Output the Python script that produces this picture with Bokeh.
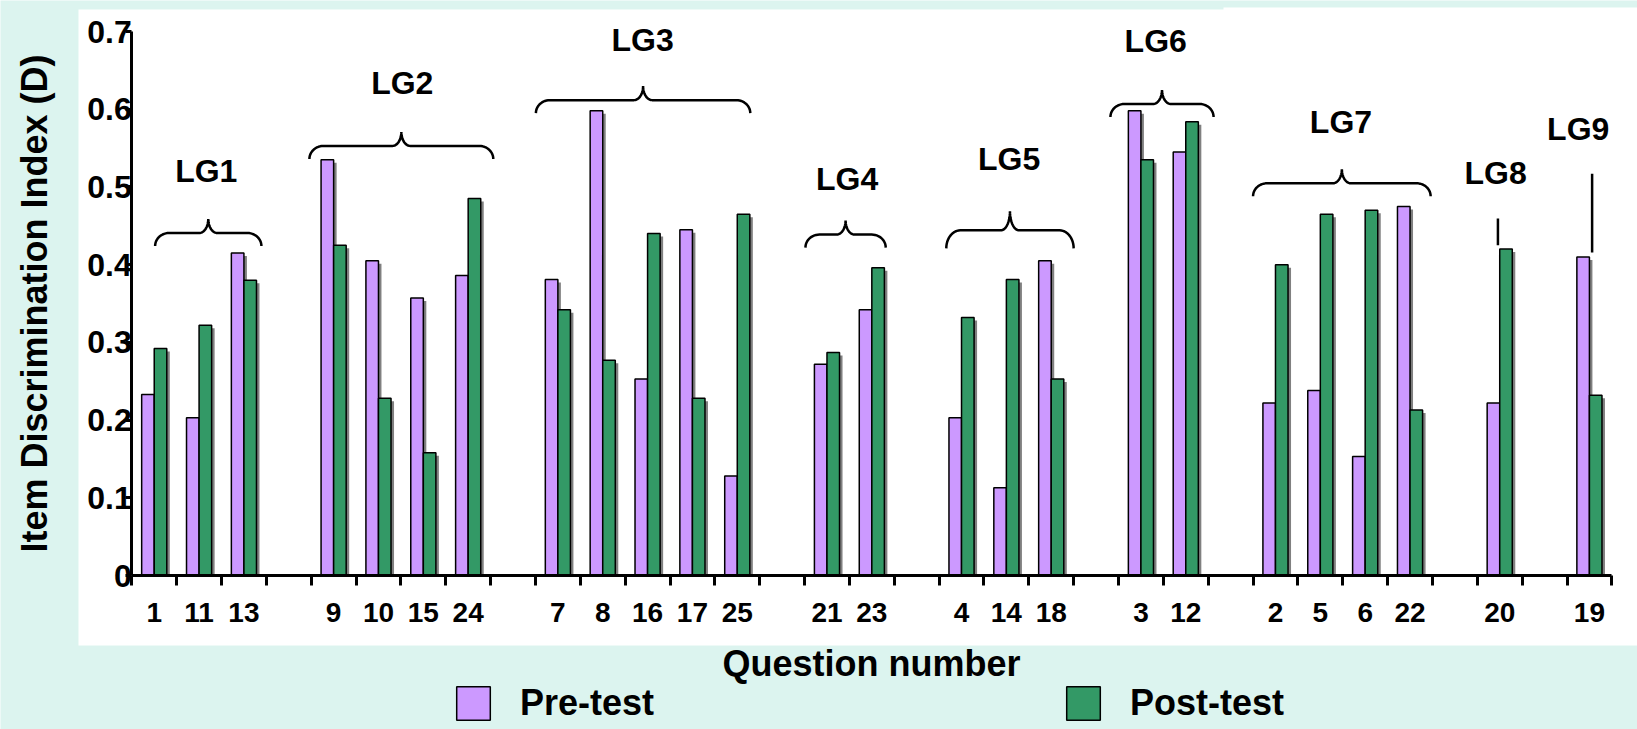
import numpy as np
from bokeh.plotting import figure
from bokeh.models import (Range1d, FixedTicker, BoxAnnotation, Legend, LegendItem,
                          LabelSet, ColumnDataSource)
from bokeh.core.properties import value
from bokeh.embed import file_html
from bokeh.resources import INLINE

# ---------------- data ----------------
group_names = ["LG1", "LG2", "LG3", "LG4", "LG5", "LG6", "LG7", "LG8", "LG9"]
group_questions = [["1", "11", "13"], ["9", "10", "15", "24"], ["7", "8", "16", "17", "25"],
                   ["21", "23"], ["4", "14", "18"], ["3", "12"], ["2", "5", "6", "22"],
                   ["20"], ["19"]]
pre_test = [0.233, 0.203, 0.415,
            0.535, 0.405, 0.357, 0.386,
            0.381, 0.598, 0.253, 0.445, 0.128,
            0.272, 0.342,
            0.203, 0.113, 0.405,
            0.598, 0.545,
            0.222, 0.238, 0.153, 0.475,
            0.222,
            0.410]
post_test = [0.292, 0.322, 0.380,
             0.425, 0.228, 0.158, 0.485,
             0.342, 0.277, 0.440, 0.228, 0.465,
             0.287, 0.396,
             0.332, 0.381, 0.253,
             0.535, 0.584,
             0.400, 0.465, 0.470, 0.213,
             0.420,
             0.232]
y_ticks = [0, 0.1, 0.2, 0.3, 0.4, 0.5, 0.6, 0.7]
y_tick_labels = ["0", "0.1", "0.2", "0.3", "0.4", "0.5", "0.6", "0.7"]

# ---------------- layout constants (pixels inside the figure) ----------------
W, H = 1637, 729
WHITE_L, WHITE_T, WHITE_B = 78, 9, 645   # white panel edges
WHITE_TR_L, WHITE_TR_T = 1223, 7         # slightly taller white part at top right
AXIS_X_PX = 131.3                 # y-axis line (x = -0.5)
AXIS_Y_PX = 575.0                 # x-axis line (y = 0)
MINT = "#dcf4ef"
PRE_C = "#cc99ff"
POST_C = "#339966"
FONT = "Liberation Sans"

# slot positions: one empty slot between groups
xs, labels = [], []
pos = 0
for qs in group_questions:
    for q in qs:
        xs.append(pos)
        labels.append(q)
        pos += 1
    pos += 1
n_slots = pos - 1
xs = np.array(xs, dtype=float)

XA0, XA1 = -0.5, n_slots - 0.5    # extent of the x axis
YA0, YA1 = 0.0, 0.7               # extent of the y axis
px_x = 44.85                      # pixels per slot
px_y = 777.1                      # pixels per unit of D

x_start = XA0 - AXIS_X_PX / px_x
x_end = x_start + W / px_x
y_end = AXIS_Y_PX / px_y
y_start = y_end - H / px_y


def xdata(px):
    return x_start + px / px_x


def ydata(py):
    return y_end - py / px_y


p = figure(width=W, height=H, x_range=Range1d(x_start, x_end), y_range=Range1d(y_start, y_end),
           output_backend="svg", toolbar_location=None,
           min_border_left=0, min_border_right=0, min_border_top=0, min_border_bottom=0)
p.border_fill_color = MINT
p.background_fill_color = MINT
p.outline_line_color = None
p.xgrid.visible = False
p.ygrid.visible = False

# white panel behind the chart area
p.add_layout(BoxAnnotation(left=xdata(WHITE_L), top=ydata(WHITE_T), bottom=ydata(WHITE_B),
                           fill_color="white", fill_alpha=1.0, line_color=None,
                           level="underlay"))
p.add_layout(BoxAnnotation(left=xdata(WHITE_TR_L), top=ydata(WHITE_TR_T), bottom=ydata(WHITE_T + 2),
                           fill_color="white", fill_alpha=1.0, line_color=None,
                           level="underlay"))

# ---------------- bars ----------------
bw = 0.28
sdx = 3 / px_x
sdy = 3 / px_y
p.vbar(x=xs - bw / 2 + sdx, top=np.array(pre_test) - sdy, width=bw, bottom=0,
       fill_color="#808080", line_color=None)
p.vbar(x=xs + bw / 2 + sdx, top=np.array(post_test) - sdy, width=bw, bottom=0,
       fill_color="#808080", line_color=None)
r_pre = p.vbar(x=xs - bw / 2, top=pre_test, width=bw, bottom=0,
               fill_color=PRE_C, line_color="black", line_width=1.5)
r_post = p.vbar(x=xs + bw / 2, top=post_test, width=bw, bottom=0,
                fill_color=POST_C, line_color="black", line_width=1.5)

# ---------------- braces and group labels ----------------
brace_x0 = [0.02, 3.46, 8.51, 14.52, 17.66, 21.32, 24.50]
brace_x1 = [2.39, 7.56, 13.29, 16.31, 20.50, 23.62, 28.46]
brace_end_y = [0.424, 0.536, 0.595, 0.422, 0.421, 0.590, 0.488]
brace_drop = [13, 13, 13, 13, 18, 13, 13]
brace_rise = [14, 14, 14, 14, 19, 14, 14]


def brace_path(x0, x1, y_end_, drop, rise, r_end=14, r_tip=9, n=14):
    yl = y_end_ + drop / px_y
    xm = (x0 + x1) / 2
    t = np.linspace(0, np.pi / 2, n)
    ax = x0 + r_end / px_x * (1 - np.cos(t))
    ay = yl - drop / px_y * (1 - np.sin(t))
    bx = xm - r_tip / px_x * (1 - np.sin(t))
    by = yl + rise / px_y * (1 - np.cos(t))
    lx = np.concatenate([ax, bx])
    ly = np.concatenate([ay, by])
    rx = (x0 + x1) - lx[::-1]
    ry = ly[::-1]
    return list(np.concatenate([lx, rx])), list(np.concatenate([ly, ry]))


bxs, bys = [], []
for a, b, ye, d, r in zip(brace_x0, brace_x1, brace_end_y, brace_drop, brace_rise):
    bx_, by_ = brace_path(a, b, ye, d, r)
    bxs.append(bx_)
    bys.append(by_)
p.multi_line(xs=bxs, ys=bys, line_color="black", line_width=2.5)

tick_line_x = [29.96, 32.06]
tick_line_y0 = [0.425, 0.4155]
tick_line_y1 = [0.4595, 0.517]
p.segment(x0=tick_line_x, y0=tick_line_y0, x1=tick_line_x, y1=tick_line_y1,
          line_color="black", line_width=2.5)

label_x = [1.16, 5.53, 10.89, 15.45, 19.06, 22.33, 26.46, 29.91, 31.75]
label_y = [0.520, 0.634, 0.689, 0.510, 0.536, 0.6875, 0.583, 0.518, 0.574]
p.add_layout(LabelSet(x="x", y="y", text="text",
                      source=ColumnDataSource(dict(x=label_x, y=label_y, text=group_names)),
                      text_align="center", text_baseline="middle",
                      text_font=value(FONT), text_font_style="bold", text_font_size="32px",
                      text_color="black"))

# ---------------- axes ----------------
minor_bounds = [XA0 + i for i in range(n_slots + 1)]
xa = p.xaxis[0]
xa.fixed_location = 0
xa.bounds = (XA0, XA1)
xa.ticker = FixedTicker(ticks=list(xs), minor_ticks=minor_bounds)
xa.major_label_overrides = {float(x): l for x, l in zip(xs, labels)}
xa.major_tick_line_color = None
xa.major_tick_out = 0
xa.major_tick_in = 0
xa.minor_tick_out = 10
xa.minor_tick_in = 0
xa.minor_tick_line_width = 3
xa.minor_tick_line_color = "black"
xa.axis_line_width = 3
xa.axis_line_color = "black"
xa.major_label_standoff = 17
xa.major_label_text_font = FONT
xa.major_label_text_font_style = "bold"
xa.major_label_text_font_size = "28px"
xa.major_label_text_color = "black"
xa.axis_label = "Question number"
xa.axis_label_text_font = FONT
xa.axis_label_text_font_style = "bold"
xa.axis_label_text_font_size = "36px"
xa.axis_label_text_color = "black"
xa.axis_label_standoff = 18

ya = p.yaxis[0]
ya.fixed_location = XA0
ya.bounds = (YA0, YA1)
ya.ticker = FixedTicker(ticks=y_ticks)
ya.major_label_overrides = {float(t): l for t, l in zip(y_ticks, y_tick_labels)}
ya.minor_tick_line_color = None
ya.major_tick_out = 6
ya.major_tick_in = 0
ya.major_tick_line_width = 3
ya.major_tick_line_color = "black"
ya.axis_line_width = 3
ya.axis_line_color = "black"
ya.major_label_standoff = -6
ya.major_label_text_font = FONT
ya.major_label_text_font_style = "bold"
ya.major_label_text_font_size = "32px"
ya.major_label_text_color = "black"
ya.axis_label = "Item Discrimination Index (D)"
ya.axis_label_text_font = FONT
ya.axis_label_text_font_style = "bold"
ya.axis_label_text_font_size = "36px"
ya.axis_label_text_color = "black"
ya.axis_label_standoff = 29

# ---------------- legend ----------------
legend = Legend(items=[LegendItem(label="Pre-test", renderers=[r_pre]),
                       LegendItem(label="Post-test", renderers=[r_post])],
                orientation="horizontal", location=(452, 5),
                glyph_width=42, glyph_height=42, label_standoff=26, spacing=408,
                padding=0, margin=0, border_line_color=None, background_fill_alpha=0,
                label_text_font=FONT, label_text_font_style="bold",
                label_text_font_size="36px", label_text_color="black")
p.add_layout(legend)

open("out.html", "w").write(file_html(p, INLINE))
